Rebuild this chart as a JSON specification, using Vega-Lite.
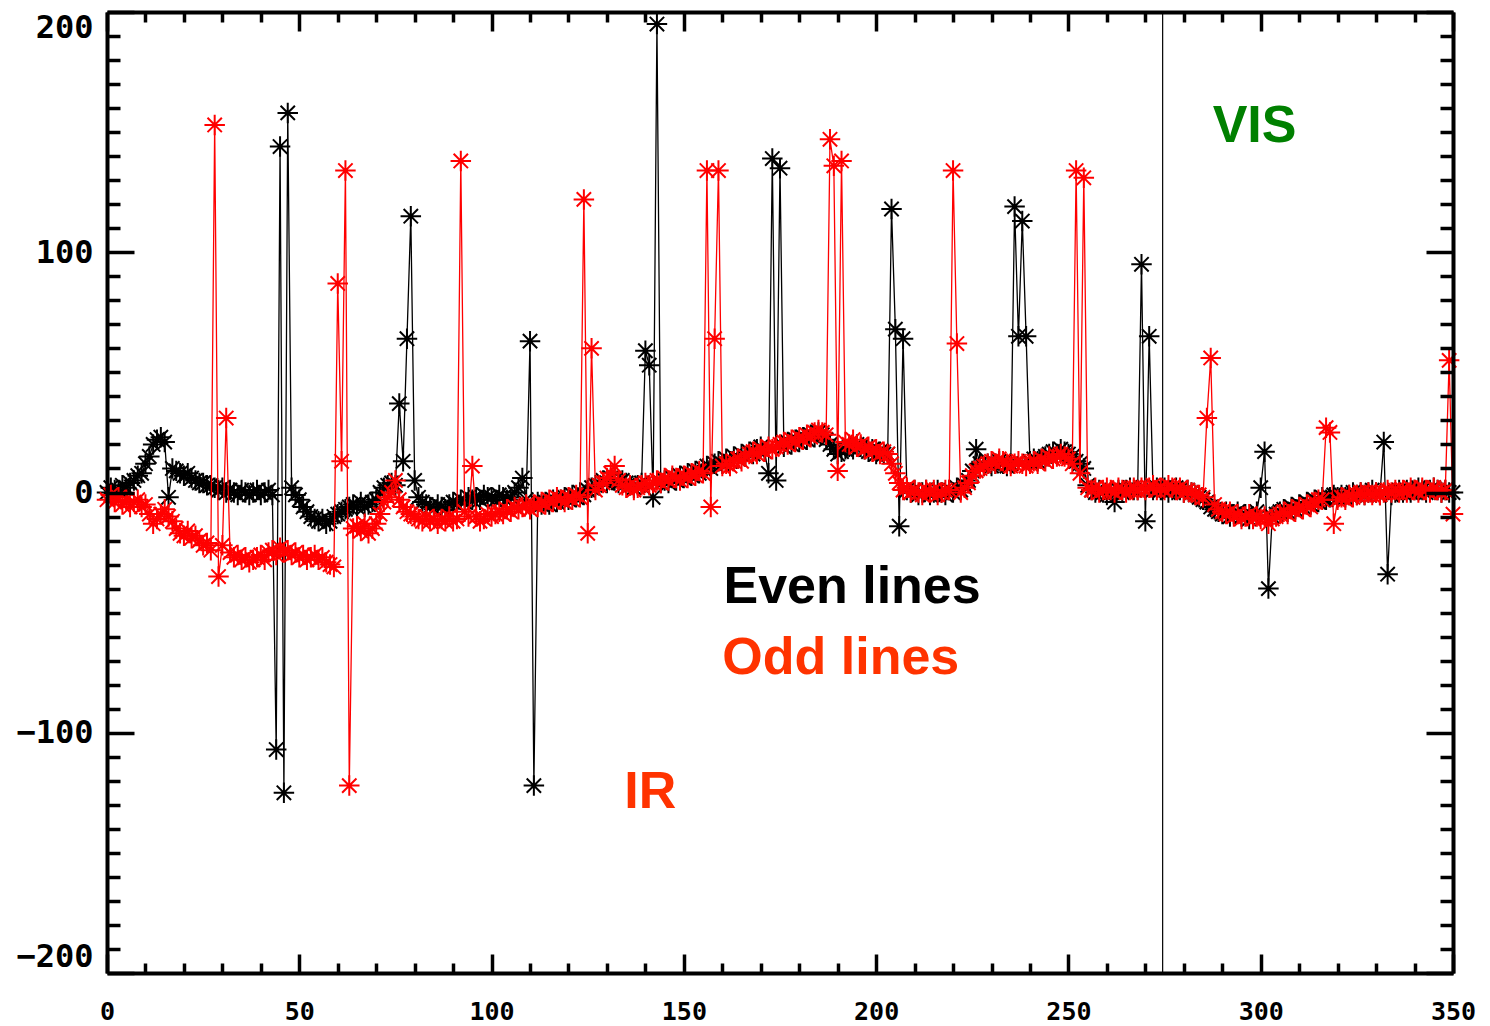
{
  "$schema": "https://vega.github.io/schema/vega-lite/v6.json",
  "width": 1346,
  "height": 961,
  "autosize": {"type": "none"},
  "padding": {"left": 107, "top": 12, "right": 37, "bottom": 53},
  "background": "white",
  "config": {"view": {"stroke": null}},
  "datasets": {
    "profile": [
      {"x":0,"e":0,"o":-3},{"x":1,"e":2,"o":-1},{"x":2,"e":1,"o":-4},{"x":3,"e":1,"o":-2},{"x":4,"e":3,"o":-5},{"x":5,"e":2,"o":-3},{"x":6,"e":4,"o":-6},{"x":7,"e":5,"o":-4},{"x":8,"e":7,"o":-3},{"x":9,"e":8,"o":-6},
      {"x":10,"e":12,"o":-5},{"x":11,"e":15,"o":-9},{"x":12,"e":20,"o":-13},{"x":13,"e":22,"o":-11},{"x":14,"e":23,"o":-9},{"x":15,"e":21,"o":-7},{"x":16,"e":-2,"o":-10},{"x":17,"e":10,"o":-12},{"x":18,"e":9,"o":-15},{"x":19,"e":8,"o":-17},
      {"x":20,"e":7,"o":-18},{"x":21,"e":8,"o":-16},{"x":22,"e":6,"o":-19},{"x":23,"e":5,"o":-18},{"x":24,"e":4,"o":-20},{"x":25,"e":4,"o":-22},{"x":26,"e":3,"o":-21},{"x":27,"e":3,"o":-24},{"x":28,"e":2,"o":153},{"x":29,"e":1,"o":-35},
      {"x":30,"e":2,"o":-22},{"x":31,"e":0,"o":31},{"x":32,"e":1,"o":-25},{"x":33,"e":0,"o":-27},{"x":34,"e":-1,"o":-26},{"x":35,"e":1,"o":-28},{"x":36,"e":0,"o":-27},{"x":37,"e":-1,"o":-29},{"x":38,"e":0,"o":-28},{"x":39,"e":1,"o":-27},
      {"x":40,"e":-1,"o":-26},{"x":41,"e":0,"o":-28},{"x":42,"e":1,"o":-25},{"x":43,"e":-1,"o":-24},{"x":44,"e":-107,"o":-26},{"x":45,"e":144,"o":-23},{"x":46,"e":-125,"o":-25},{"x":47,"e":158,"o":-24},{"x":48,"e":2,"o":-26},{"x":49,"e":-1,"o":-25},
      {"x":50,"e":-3,"o":-27},{"x":51,"e":-6,"o":-26},{"x":52,"e":-8,"o":-28},{"x":53,"e":-10,"o":-27},{"x":54,"e":-11,"o":-26},{"x":55,"e":-12,"o":-28},{"x":56,"e":-11,"o":-27},{"x":57,"e":-13,"o":-29},{"x":58,"e":-12,"o":-30},{"x":59,"e":-10,"o":-31},
      {"x":60,"e":-9,"o":87},{"x":61,"e":-8,"o":13},{"x":62,"e":-7,"o":134},{"x":63,"e":-6,"o":-122},{"x":64,"e":-5,"o":-15},{"x":65,"e":-6,"o":-14},{"x":66,"e":-4,"o":-16},{"x":67,"e":-6,"o":-13},{"x":68,"e":-5,"o":-17},{"x":69,"e":-4,"o":-15},
      {"x":70,"e":-3,"o":-13},{"x":71,"e":0,"o":-9},{"x":72,"e":2,"o":-4},{"x":73,"e":3,"o":-2},{"x":74,"e":4,"o":0},{"x":75,"e":3,"o":5},{"x":76,"e":37,"o":-3},{"x":77,"e":13,"o":-6},{"x":78,"e":64,"o":-8},{"x":79,"e":115,"o":-9},
      {"x":80,"e":5,"o":-10},{"x":81,"e":-2,"o":-11},{"x":82,"e":-4,"o":-12},{"x":83,"e":-5,"o":-10},{"x":84,"e":-6,"o":-12},{"x":85,"e":-7,"o":-11},{"x":86,"e":-5,"o":-13},{"x":87,"e":-6,"o":-11},{"x":88,"e":-7,"o":-12},{"x":89,"e":-5,"o":-10},
      {"x":90,"e":-4,"o":-12},{"x":91,"e":-5,"o":-11},{"x":92,"e":-3,"o":138},{"x":93,"e":-4,"o":-8},{"x":94,"e":-2,"o":-10},{"x":95,"e":-3,"o":11},{"x":96,"e":-2,"o":-10},{"x":97,"e":-3,"o":-12},{"x":98,"e":-1,"o":-11},{"x":99,"e":-2,"o":-9},
      {"x":100,"e":-2,"o":-10},{"x":101,"e":-3,"o":-9},{"x":102,"e":-1,"o":-8},{"x":103,"e":-2,"o":-9},{"x":104,"e":-3,"o":-7},{"x":105,"e":-2,"o":-8},{"x":106,"e":0,"o":-6},{"x":107,"e":2,"o":-7},{"x":108,"e":6,"o":-6},{"x":109,"e":-3,"o":-5},
      {"x":110,"e":63,"o":-7},{"x":111,"e":-122,"o":-5},{"x":112,"e":-4,"o":-6},{"x":113,"e":-5,"o":-4},{"x":114,"e":-4,"o":-5},{"x":115,"e":-5,"o":-3},{"x":116,"e":-3,"o":-4},{"x":117,"e":-4,"o":-2},{"x":118,"e":-3,"o":-3},{"x":119,"e":-2,"o":-4},
      {"x":120,"e":-3,"o":-2},{"x":121,"e":-1,"o":-3},{"x":122,"e":-2,"o":-1},{"x":123,"e":0,"o":-2},{"x":124,"e":-1,"o":122},{"x":125,"e":1,"o":-17},{"x":126,"e":2,"o":60},{"x":127,"e":3,"o":1},{"x":128,"e":3,"o":3},{"x":129,"e":5,"o":4},
      {"x":130,"e":4,"o":6},{"x":131,"e":6,"o":8},{"x":132,"e":5,"o":11},{"x":133,"e":4,"o":5},{"x":134,"e":5,"o":3},{"x":135,"e":4,"o":2},{"x":136,"e":3,"o":3},{"x":137,"e":2,"o":1},{"x":138,"e":3,"o":2},{"x":139,"e":4,"o":3},
      {"x":140,"e":59,"o":4},{"x":141,"e":53,"o":3},{"x":142,"e":-2,"o":4},{"x":143,"e":195,"o":5},{"x":144,"e":4,"o":4},{"x":145,"e":5,"o":6},{"x":146,"e":4,"o":5},{"x":147,"e":6,"o":7},{"x":148,"e":5,"o":6},{"x":149,"e":7,"o":5},
      {"x":150,"e":6,"o":7},{"x":151,"e":8,"o":6},{"x":152,"e":7,"o":8},{"x":153,"e":9,"o":7},{"x":154,"e":8,"o":9},{"x":155,"e":10,"o":8},{"x":156,"e":11,"o":134},{"x":157,"e":10,"o":-6},{"x":158,"e":12,"o":64},{"x":159,"e":13,"o":134},
      {"x":160,"e":12,"o":11},{"x":161,"e":14,"o":12},{"x":162,"e":13,"o":11},{"x":163,"e":15,"o":13},{"x":164,"e":14,"o":14},{"x":165,"e":16,"o":13},{"x":166,"e":15,"o":15},{"x":167,"e":17,"o":16},{"x":168,"e":16,"o":17},{"x":169,"e":18,"o":16},
      {"x":170,"e":19,"o":18},{"x":171,"e":17,"o":17},{"x":172,"e":8,"o":19},{"x":173,"e":139,"o":18},{"x":174,"e":5,"o":19},{"x":175,"e":135,"o":20},{"x":176,"e":19,"o":21},{"x":177,"e":21,"o":20},{"x":178,"e":20,"o":22},{"x":179,"e":22,"o":21},
      {"x":180,"e":21,"o":23},{"x":181,"e":23,"o":22},{"x":182,"e":22,"o":24},{"x":183,"e":24,"o":23},{"x":184,"e":23,"o":25},{"x":185,"e":25,"o":26},{"x":186,"e":24,"o":25},{"x":187,"e":22,"o":24},{"x":188,"e":20,"o":147},{"x":189,"e":18,"o":136},
      {"x":190,"e":16,"o":9},{"x":191,"e":17,"o":138},{"x":192,"e":18,"o":21},{"x":193,"e":19,"o":20},{"x":194,"e":18,"o":22},{"x":195,"e":20,"o":19},{"x":196,"e":19,"o":20},{"x":197,"e":18,"o":18},{"x":198,"e":17,"o":19},{"x":199,"e":18,"o":17},
      {"x":200,"e":16,"o":18},{"x":201,"e":17,"o":16},{"x":202,"e":16,"o":17},{"x":203,"e":16,"o":16},{"x":204,"e":118,"o":12},{"x":205,"e":68,"o":8},{"x":206,"e":-14,"o":4},{"x":207,"e":64,"o":1},{"x":208,"e":1,"o":2},{"x":209,"e":0,"o":0},
      {"x":210,"e":1,"o":1},{"x":211,"e":-1,"o":0},{"x":212,"e":0,"o":-1},{"x":213,"e":1,"o":1},{"x":214,"e":-1,"o":0},{"x":215,"e":0,"o":1},{"x":216,"e":1,"o":-1},{"x":217,"e":0,"o":0},{"x":218,"e":-1,"o":1},{"x":219,"e":1,"o":1},
      {"x":220,"e":0,"o":134},{"x":221,"e":2,"o":62},{"x":222,"e":1,"o":0},{"x":223,"e":3,"o":2},{"x":224,"e":5,"o":4},{"x":225,"e":9,"o":7},{"x":226,"e":18,"o":9},{"x":227,"e":12,"o":10},{"x":228,"e":11,"o":11},{"x":229,"e":12,"o":12},
      {"x":230,"e":11,"o":13},{"x":231,"e":12,"o":12},{"x":232,"e":13,"o":14},{"x":233,"e":12,"o":13},{"x":234,"e":11,"o":12},{"x":235,"e":12,"o":11},{"x":236,"e":119,"o":12},{"x":237,"e":65,"o":13},{"x":238,"e":113,"o":12},{"x":239,"e":65,"o":11},
      {"x":240,"e":13,"o":12},{"x":241,"e":14,"o":13},{"x":242,"e":13,"o":12},{"x":243,"e":14,"o":14},{"x":244,"e":15,"o":13},{"x":245,"e":16,"o":15},{"x":246,"e":17,"o":14},{"x":247,"e":16,"o":15},{"x":248,"e":18,"o":16},{"x":249,"e":17,"o":15},
      {"x":250,"e":16,"o":14},{"x":251,"e":15,"o":12},{"x":252,"e":13,"o":134},{"x":253,"e":12,"o":8},{"x":254,"e":10,"o":131},{"x":255,"e":3,"o":2},{"x":256,"e":1,"o":1},{"x":257,"e":0,"o":2},{"x":258,"e":1,"o":0},{"x":259,"e":0,"o":1},
      {"x":260,"e":-1,"o":2},{"x":261,"e":0,"o":1},{"x":262,"e":-4,"o":0},{"x":263,"e":1,"o":2},{"x":264,"e":0,"o":1},{"x":265,"e":1,"o":0},{"x":266,"e":2,"o":1},{"x":267,"e":1,"o":2},{"x":268,"e":1,"o":1},{"x":269,"e":95,"o":2},
      {"x":270,"e":-12,"o":1},{"x":271,"e":65,"o":2},{"x":272,"e":1,"o":3},{"x":273,"e":2,"o":1},{"x":274,"e":1,"o":2},{"x":275,"e":2,"o":1},{"x":276,"e":0,"o":3},{"x":277,"e":1,"o":2},{"x":278,"e":2,"o":1},{"x":279,"e":1,"o":2},
      {"x":280,"e":0,"o":0},{"x":281,"e":1,"o":1},{"x":282,"e":0,"o":0},{"x":283,"e":-1,"o":-1},{"x":284,"e":-2,"o":-1},{"x":285,"e":-3,"o":-2},{"x":286,"e":-4,"o":31},{"x":287,"e":-6,"o":56},{"x":288,"e":-7,"o":-5},{"x":289,"e":-8,"o":-7},
      {"x":290,"e":-9,"o":-8},{"x":291,"e":-8,"o":-9},{"x":292,"e":-10,"o":-8},{"x":293,"e":-9,"o":-10},{"x":294,"e":-8,"o":-9},{"x":295,"e":-10,"o":-11},{"x":296,"e":-9,"o":-10},{"x":297,"e":-11,"o":-9},{"x":298,"e":-10,"o":-11},{"x":299,"e":-8,"o":-10},
      {"x":300,"e":2,"o":-11},{"x":301,"e":17,"o":-10},{"x":302,"e":-40,"o":-13},{"x":303,"e":-10,"o":-11},{"x":304,"e":-9,"o":-10},{"x":305,"e":-8,"o":-9},{"x":306,"e":-7,"o":-8},{"x":307,"e":-8,"o":-9},{"x":308,"e":-6,"o":-7},{"x":309,"e":-7,"o":-8},
      {"x":310,"e":-5,"o":-6},{"x":311,"e":-6,"o":-7},{"x":312,"e":-4,"o":-5},{"x":313,"e":-5,"o":-6},{"x":314,"e":-3,"o":-4},{"x":315,"e":-4,"o":-3},{"x":316,"e":-2,"o":-3},{"x":317,"e":-3,"o":27},{"x":318,"e":-2,"o":25},{"x":319,"e":-1,"o":-13},
      {"x":320,"e":-2,"o":-3},{"x":321,"e":-1,"o":-2},{"x":322,"e":-2,"o":-3},{"x":323,"e":-1,"o":-1},{"x":324,"e":0,"o":-2},{"x":325,"e":-1,"o":-1},{"x":326,"e":0,"o":0},{"x":327,"e":-1,"o":-1},{"x":328,"e":0,"o":0},{"x":329,"e":1,"o":-1},
      {"x":330,"e":0,"o":0},{"x":331,"e":-1,"o":-1},{"x":332,"e":21,"o":0},{"x":333,"e":-34,"o":1},{"x":334,"e":-1,"o":0},{"x":335,"e":0,"o":1},{"x":336,"e":1,"o":0},{"x":337,"e":0,"o":1},{"x":338,"e":1,"o":0},{"x":339,"e":0,"o":2},
      {"x":340,"e":1,"o":1},{"x":341,"e":2,"o":0},{"x":342,"e":1,"o":2},{"x":343,"e":0,"o":1},{"x":344,"e":1,"o":0},{"x":345,"e":2,"o":2},{"x":346,"e":1,"o":1},{"x":347,"e":0,"o":0},{"x":348,"e":1,"o":1},{"x":349,"e":0,"o":55},
      {"x":350,"e":0,"o":-9}
    ],
    "boundary": [{"x": 274.5}],
    "labels": [
      {"label": "Even lines", "x": 160.3, "y": -46},
      {"label": "Odd lines", "x": 160.0, "y": -75.5},
      {"label": "IR", "x": 134.5, "y": -131.3},
      {"label": "VIS", "x": 287.5, "y": 145.9}
    ]
  },
  "layer": [
    {
      "data": {"name": "boundary"},
      "mark": {"type": "rule", "color": "black", "strokeWidth": 1.2},
      "encoding": {
        "x": {"field": "x", "type": "quantitative", "scale": {"domain": [0, 350], "nice": false, "zero": false}, "axis": null}
      }
    },
    {
      "data": {"name": "profile"},
      "mark": {"type": "line", "color": "black", "strokeWidth": 1.3},
      "encoding": {
        "x": {
          "field": "x", "type": "quantitative",
          "scale": {"domain": [0, 350], "nice": false, "zero": false},
          "axis": {
            "orient": "bottom", "title": null, "grid": false, "zindex": 1,
            "values": [0,10,20,30,40,50,60,70,80,90,100,110,120,130,140,150,160,170,180,190,200,210,220,230,240,250,260,270,280,290,300,310,320,330,340,350],
            "labelExpr": "datum.value % 50 === 0 ? datum.label : ''",
            "tickSize": {"condition": {"test": "datum.value % 50 === 0", "value": -19}, "value": -10},
            "tickWidth": 3.5, "tickColor": "black", "domainColor": "black", "domainWidth": 4,
            "labelFont": "DejaVu Sans Mono", "labelFontWeight": "bold", "labelFontSize": 25, "labelColor": "black",
            "labelPadding": 45, "labelFlush": false, "labelOverlap": false, "format": "d"
          }
        },
        "y": {
          "field": "e", "type": "quantitative",
          "scale": {"domain": [-200, 200], "nice": false, "zero": false},
          "axis": {
            "orient": "left", "title": null, "grid": false, "zindex": 1,
            "values": [-200,-190,-180,-170,-160,-150,-140,-130,-120,-110,-100,-90,-80,-70,-60,-50,-40,-30,-20,-10,0,10,20,30,40,50,60,70,80,90,100,110,120,130,140,150,160,170,180,190,200],
            "labelExpr": "datum.value % 100 === 0 ? datum.label : ''",
            "tickSize": {"condition": {"test": "datum.value % 100 === 0", "value": -27}, "value": -13},
            "tickWidth": 3.5, "tickColor": "black", "domainColor": "black", "domainWidth": 4,
            "labelFont": "DejaVu Sans Mono", "labelFontWeight": "bold", "labelFontSize": 32, "labelColor": "black",
            "labelPadding": 41, "labelFlush": true, "labelOverlap": false, "format": "d"
          }
        }
      }
    },
    {
      "data": {"name": "profile"},
      "mark": {"type": "point", "shape": "M0,-1L0,1M-1,0L1,0M-0.7,-0.7L0.7,0.7M-0.7,0.7L0.7,-0.7", "filled": false, "color": "black", "strokeWidth": 2, "size": 420, "opacity": 1},
      "encoding": {
        "x": {"field": "x", "type": "quantitative", "axis": null},
        "y": {"field": "e", "type": "quantitative", "axis": null}
      }
    },
    {
      "data": {"name": "profile"},
      "mark": {"type": "line", "color": "#ff0000", "strokeWidth": 1.3},
      "encoding": {
        "x": {
          "field": "x", "type": "quantitative",
          "axis": {
            "orient": "top", "title": null, "grid": false, "labels": false, "zindex": 1,
            "values": [0,10,20,30,40,50,60,70,80,90,100,110,120,130,140,150,160,170,180,190,200,210,220,230,240,250,260,270,280,290,300,310,320,330,340,350],
            "tickSize": {"condition": {"test": "datum.value % 50 === 0", "value": -19}, "value": -10},
            "tickWidth": 3.5, "tickColor": "black", "domainColor": "black", "domainWidth": 4
          }
        },
        "y": {
          "field": "o", "type": "quantitative",
          "axis": {
            "orient": "right", "title": null, "grid": false, "labels": false, "zindex": 1,
            "values": [-200,-190,-180,-170,-160,-150,-140,-130,-120,-110,-100,-90,-80,-70,-60,-50,-40,-30,-20,-10,0,10,20,30,40,50,60,70,80,90,100,110,120,130,140,150,160,170,180,190,200],
            "tickSize": {"condition": {"test": "datum.value % 100 === 0", "value": -27}, "value": -13},
            "tickWidth": 3.5, "tickColor": "black", "domainColor": "black", "domainWidth": 4
          }
        }
      }
    },
    {
      "data": {"name": "profile"},
      "mark": {"type": "point", "shape": "M0,-1L0,1M-1,0L1,0M-0.7,-0.7L0.7,0.7M-0.7,0.7L0.7,-0.7", "filled": false, "color": "#ff0000", "strokeWidth": 2, "size": 420, "opacity": 1},
      "encoding": {
        "x": {"field": "x", "type": "quantitative", "axis": null},
        "y": {"field": "o", "type": "quantitative", "axis": null}
      }
    },
    {
      "data": {"name": "labels"},
      "mark": {"type": "text", "font": "Liberation Sans", "fontWeight": "bold", "fontSize": 52, "align": "left", "baseline": "alphabetic"},
      "encoding": {
        "x": {"field": "x", "type": "quantitative", "axis": null},
        "y": {"field": "y", "type": "quantitative", "axis": null},
        "text": {"field": "label"},
        "color": {"field": "label", "type": "nominal", "legend": null,
          "scale": {"domain": ["Even lines", "Odd lines", "IR", "VIS"], "range": ["#000000", "#ff3300", "#ff3300", "#008000"]}}
      }
    }
  ],
  "resolve": {"axis": {"x": "independent", "y": "independent"}}
}
